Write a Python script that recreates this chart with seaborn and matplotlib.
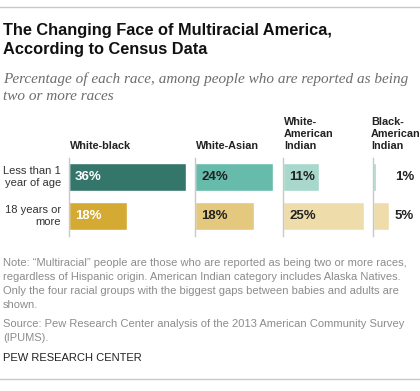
import matplotlib
matplotlib.use('Agg')
import matplotlib.pyplot as plt
from matplotlib.lines import Line2D
import seaborn as sns
import pandas as pd

# data
groups = ['White-black', 'White-Asian', 'White-\nAmerican\nIndian', 'Black-\nAmerican\nIndian']
ages = ['Less than 1\nyear of age', '18 years or\nmore']
babies = [36, 24, 11, 1]
adults = [18, 18, 25, 5]
baby_colors = ['#35766a', '#66bbab', '#a8d8cb', '#a8d8cb']
adult_colors = ['#d4aa33', '#e3c87e', '#eeddaa', '#eeddaa']
baby_text = ['white', '#222222', '#222222', '#222222']
adult_text = ['white', '#222222', '#222222', '#222222']

title = ['The Changing Face of Multiracial America,', 'According to Census Data']
subtitle = ['Percentage of each race, among people who are reported as being',
            'two or more races']
notes = ['Note: \u201cMultiracial\u201d people are those who are reported as being two or more races,',
         'regardless of Hispanic origin. American Indian category includes Alaska Natives.',
         'Only the four racial groups with the biggest gaps between babies and adults are',
         'shown.']
source = ['Source: Pew Research Center analysis of the 2013 American Community Survey',
          '(IPUMS).']

W, H = 420, 391
sns.set_theme(style='white')
plt.rcParams['font.family'] = ['Liberation Sans', 'DejaVu Sans']
fig = plt.figure(figsize=(W / 100, H / 100), dpi=100)

px_per_pct = 3.25
lefts = [69, 195, 283, 373]
rights = [190, 280, 370, 420]
header_x = [70, 196, 284, 371]
top, bottom = 157.5, 235.5


def fy(y):
    return 1 - y / H


for i in range(4):
    x0, x1 = lefts[i], rights[i]
    ax = fig.add_axes([x0 / W, fy(bottom), (x1 - x0) / W, (bottom - top) / H])
    df = pd.DataFrame({'age': ages, 'pct': [babies[i], adults[i]]})
    sns.barplot(data=df, x='pct', y='age', hue='age',
                palette=[baby_colors[i], adult_colors[i]], legend=False,
                width=0.72, saturation=1, ax=ax)
    ax.set_xlim(0, (x1 - x0) / px_per_pct)
    ax.set_ylim(1.5, -0.5)
    ax.set_xticks([])
    ax.set_yticks([])
    ax.set_xlabel('')
    ax.set_ylabel('')
    for s in ['top', 'right', 'bottom']:
        ax.spines[s].set_visible(False)
    ax.spines['left'].set_color('#c8c8c8')
    ax.spines['left'].set_linewidth(1)
    ax.patch.set_alpha(0)

    tx = (395 - x0) / px_per_pct if i == 3 else 6 / px_per_pct
    for j, (v, c) in enumerate(zip([babies[i], adults[i]], [baby_text[i], adult_text[i]])):
        ax.text(tx, j, f'{v}%', ha='left', va='center', fontsize=9.5,
                fontweight='bold', color=c)

    fig.text(header_x[i] / W, fy(151), groups[i], ha='left', va='bottom',
             fontsize=7.8, fontweight='bold', color='#222222', linespacing=1.25)

# row labels
for y, lab in zip([177, 216], ages):
    fig.text(61 / W, fy(y), lab, ha='right', va='center', fontsize=8,
             color='#333333', linespacing=1.2)

# title and subtitle
fig.text(3 / W, fy(35), title[0], fontsize=11.8, fontweight='bold', color='#111111', va='baseline')
fig.text(3 / W, fy(54), title[1], fontsize=11.8, fontweight='bold', color='#111111', va='baseline')
fig.text(3 / W, fy(83), subtitle[0], fontsize=11, style='italic', family='Liberation Serif',
         color='#6d6d6d', va='baseline')
fig.text(3 / W, fy(100), subtitle[1], fontsize=11, style='italic', family='Liberation Serif',
         color='#6d6d6d', va='baseline')

for k, line in enumerate(notes):
    fig.text(3 / W, fy(266 + 14 * k), line, fontsize=8, color='#8c8c8c', va='baseline')
for k, line in enumerate(source):
    fig.text(3 / W, fy(327 + 14 * k), line, fontsize=8, color='#8c8c8c', va='baseline')
fig.text(3 / W, fy(361), 'PEW RESEARCH CENTER', fontsize=8, color='#222222', va='baseline')

fig.add_artist(Line2D([0, 1], [fy(7), fy(7)], transform=fig.transFigure, color='#c8c8c8', lw=1))
fig.add_artist(Line2D([0, 1], [fy(379), fy(379)], transform=fig.transFigure, color='#c8c8c8', lw=1))

fig.savefig('out.png', dpi=100, facecolor='white')
